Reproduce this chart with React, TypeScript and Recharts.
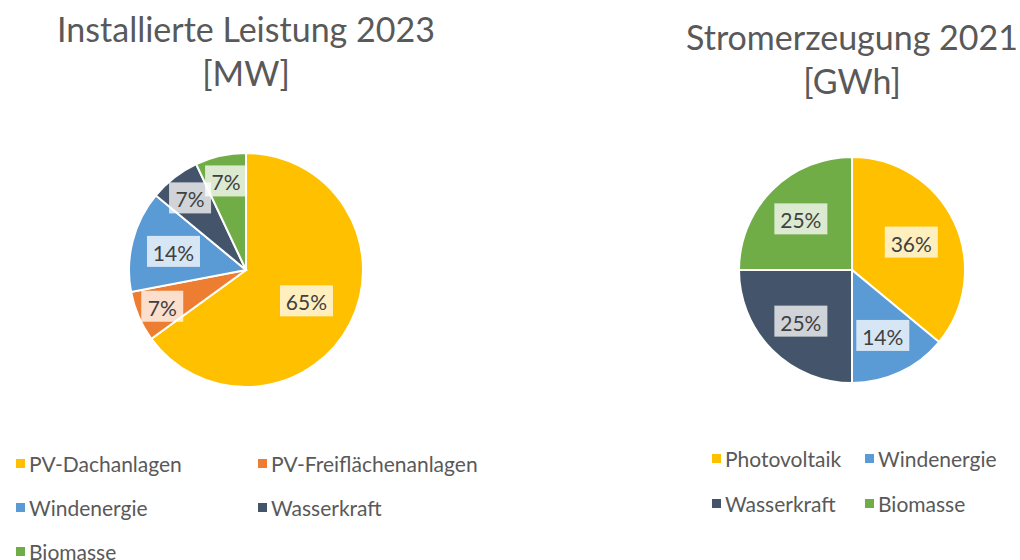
import React from "react";
import { PieChart, Pie, Cell, Legend } from "recharts";

const leistungNames = [
  "PV-Dachanlagen",
  "PV-Freiflächenanlagen",
  "Windenergie",
  "Wasserkraft",
  "Biomasse",
];
const leistungValues = [65, 7, 14, 7, 7];
const leistungColors = ["#FFC000", "#ED7D31", "#5B9BD5", "#44546A", "#70AD47"];

const erzeugungNames = ["Photovoltaik", "Windenergie", "Wasserkraft", "Biomasse"];
const erzeugungValues = [36, 14, 25, 25];
const erzeugungColors = ["#FFC000", "#5B9BD5", "#44546A", "#70AD47"];

const leistungData = leistungNames.map((name, i) => ({ name, value: leistungValues[i] }));
const erzeugungData = erzeugungNames.map((name, i) => ({ name, value: erzeugungValues[i] }));

const FONT = "Lato, 'Open Sans', sans-serif";
const RADIAN = Math.PI / 180;

const renderLabel = (props: any) => {
  const { cx, cy, midAngle, outerRadius, percent } = props;
  const pct = Math.round(percent * 100);
  const factor = pct < 10 ? 0.78 : pct > 30 ? 0.58 : 0.64;
  const r = outerRadius * factor;
  const x = cx + r * Math.cos(-midAngle * RADIAN);
  const y = cy + r * Math.sin(-midAngle * RADIAN);
  const text = pct + "%";
  const w = text.length * 11 + 20;
  const h = 31;
  return (
    <g>
      <rect x={x - w / 2} y={y - h / 2} width={w} height={h} fill="#ffffff" fillOpacity={0.75} />
      <text
        x={x}
        y={y + 1}
        textAnchor="middle"
        dominantBaseline="central"
        fill="#404040"
        fontSize={21}
        fontFamily={FONT}
      >
        {text}
      </text>
    </g>
  );
};

// legend drawn from the arrays so the order matches the data
const makeLegend = (names: string[], colors: string[], colWidth: number, rowHeight: number) => () => (
  <div
    style={{
      display: "grid",
      gridTemplateColumns: `${colWidth}px ${colWidth}px`,
      gridAutoRows: `${rowHeight}px`,
      fontFamily: FONT,
      fontSize: 21,
      color: "#595959",
    }}
  >
    {names.map((name, i) => (
      <div key={name} style={{ display: "flex", alignItems: "center", whiteSpace: "nowrap" }}>
        <span
          style={{
            display: "inline-block",
            width: 9,
            height: 9,
            background: colors[i],
            marginRight: 4,
          }}
        />
        {name}
      </div>
    ))}
  </div>
);

const titleStyle: React.CSSProperties = {
  position: "absolute",
  textAlign: "center",
  fontFamily: FONT,
  fontWeight: 400,
  fontSize: 34,
  color: "#595959",
  lineHeight: "44px",
  whiteSpace: "nowrap",
};

export default function App() {
  return (
    <div
      style={{
        position: "absolute",
        left: 0,
        top: 0,
        width: 1020,
        height: 560,
        background: "#ffffff",
        overflow: "hidden",
      }}
    >
      <div style={{ ...titleStyle, left: 0, width: 492, top: 7 }}>
        Installierte Leistung 2023
        <br />
        [MW]
      </div>
      <div style={{ ...titleStyle, left: 686, width: 332, top: 15 }}>
        Stromerzeugung 2021
        <br />
        [GWh]
      </div>

      <div style={{ position: "absolute", left: 0, top: 0 }}>
        <PieChart width={510} height={560}>
          <Pie
            data={leistungData}
            dataKey="value"
            nameKey="name"
            cx={241}
            cy={265}
            outerRadius={117}
            startAngle={90}
            endAngle={-270}
            stroke="#ffffff"
            strokeWidth={2}
            label={renderLabel}
            labelLine={false}
            isAnimationActive={false}
          >
            {leistungData.map((d, i) => (
              <Cell key={d.name} fill={leistungColors[i]} />
            ))}
          </Pie>
          <Legend
            content={makeLegend(leistungNames, leistungColors, 242, 44)}
            wrapperStyle={{ position: "absolute", left: 16, top: 441, width: 490 }}
          />
        </PieChart>
      </div>

      <div style={{ position: "absolute", left: 510, top: 0 }}>
        <PieChart width={510} height={560}>
          <Pie
            data={erzeugungData}
            dataKey="value"
            nameKey="name"
            cx={337}
            cy={265}
            outerRadius={113}
            startAngle={90}
            endAngle={-270}
            stroke="#ffffff"
            strokeWidth={2}
            label={renderLabel}
            labelLine={false}
            isAnimationActive={false}
          >
            {erzeugungData.map((d, i) => (
              <Cell key={d.name} fill={erzeugungColors[i]} />
            ))}
          </Pie>
          <Legend
            content={makeLegend(erzeugungNames, erzeugungColors, 153, 45)}
            wrapperStyle={{ position: "absolute", left: 202, top: 436, width: 310 }}
          />
        </PieChart>
      </div>
    </div>
  );
}
